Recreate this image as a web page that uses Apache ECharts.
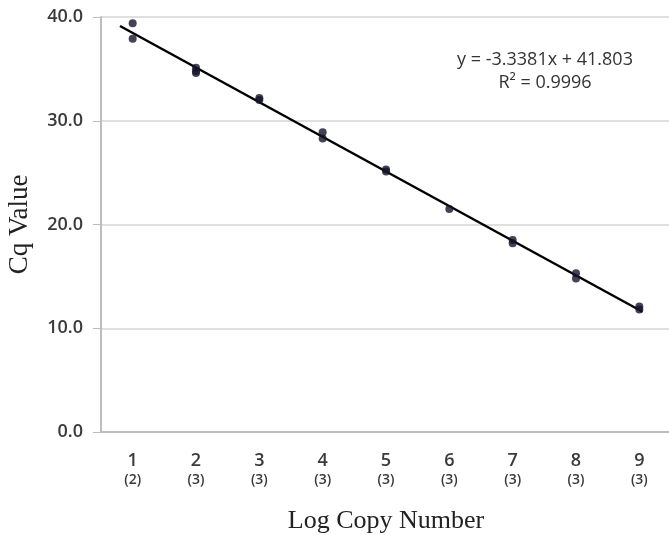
<!DOCTYPE html>
<html lang="en">
<head>
    <meta charset="UTF-8">
    <title>Cq vs Log Copy Number</title>
    <script src="https://cdn.jsdelivr.net/npm/echarts@6.0.0/dist/echarts.min.js"></script>
    <style>
        html, body { margin: 0; padding: 0; background: #fff; }
        #chart { width: 669px; height: 535px; }
    </style>
</head>
<body>
    <div id="chart"></div>
    <script>
        // tick labels along the x axis: log copy number and (replicates)
        const logCopies = ['1', '2', '3', '4', '5', '6', '7', '8', '9'];
        const replicates = ['2', '3', '3', '3', '3', '3', '3', '3', '3'];

        // measured points (x = log copy number, y = Cq)
        const pointX = [1, 1, 2, 2, 2, 3, 3, 4, 4, 5, 5, 6, 7, 7, 8, 8, 9, 9];
        const pointY = [39.4, 37.9, 35.1, 34.8, 34.6, 32.2, 32.0, 28.9, 28.3,
                        25.3, 25.1, 21.5, 18.5, 18.2, 15.3, 14.8, 12.1, 11.8];

        // trend line end points
        const lineX = [0.8, 9.05];
        const lineY = [39.13, 11.59];

        const yTicks = [0, 10, 20, 30, 40];

        const chart = echarts.init(document.getElementById('chart'));

        const labelFont = '"Open Sans", sans-serif';
        const serifFont = '"Liberation Serif", "Times New Roman", serif';

        const option = {
            animation: false,
            backgroundColor: '#fff',
            grid: { left: 101, right: -2, top: 17, bottom: 103, outerBoundsMode: 'none', containLabel: false },
            xAxis: [{
                type: 'category',
                data: logCopies,
                boundaryGap: true,
                name: 'Log Copy Number',
                nameLocation: 'middle',
                nameGap: 76,
                nameTextStyle: { fontFamily: serifFont, fontSize: 26, color: '#222' },
                axisLine: { lineStyle: { color: '#bdbdbd', width: 2 } },
                axisTick: { alignWithLabel: true, length: 6, lineStyle: { color: '#bdbdbd' } },
                axisLabel: {
                    margin: 18,
                    interval: 0,
                    formatter: (v, i) => '{a|' + v + '}\n{b|(' + replicates[i] + ')}',
                    rich: {
                        a: { fontFamily: labelFont, fontSize: 18, fontWeight: 600, color: '#3a3a3a', lineHeight: 21 },
                        b: { fontFamily: labelFont, fontSize: 14, fontWeight: 600, color: '#3a3a3a', lineHeight: 18 }
                    }
                },
                splitLine: { show: false }
            }, {
                type: 'value',
                min: 0.5,
                max: 9.5,
                show: false
            }],
            yAxis: {
                type: 'value',
                min: yTicks[0],
                max: yTicks[yTicks.length - 1],
                interval: 10,
                name: 'Cq Value',
                nameLocation: 'middle',
                nameGap: 68,
                nameTextStyle: { fontFamily: serifFont, fontSize: 27, color: '#222' },
                axisLine: { show: true, lineStyle: { color: '#bdbdbd', width: 2 } },
                axisTick: { show: true, length: 8, lineStyle: { color: '#bdbdbd' } },
                axisLabel: {
                    margin: 18,
                    fontFamily: labelFont,
                    fontSize: 18,
                    fontWeight: 600,
                    color: '#3a3a3a',
                    formatter: v => v.toFixed(1)
                },
                splitLine: { lineStyle: { color: '#d4d4d4', width: 1.5 } }
            },
            series: [{
                type: 'line',
                xAxisIndex: 1,
                data: lineX.map((x, i) => [x, lineY[i]]),
                showSymbol: false,
                lineStyle: { color: '#000', width: 2.5 },
                z: 2
            }, {
                type: 'scatter',
                xAxisIndex: 1,
                data: pointX.map((x, i) => [x, pointY[i]]),
                symbolSize: 8,
                itemStyle: { color: '#14142a' },
                z: 3
            }],
            graphic: [{
                type: 'text',
                x: 545,
                y: 48,
                style: {
                    text: 'y = -3.3381x + 41.803\nR² = 0.9996',
                    textAlign: 'center',
                    textVerticalAlign: 'top',
                    fontFamily: labelFont,
                    fontSize: 18,
                    lineHeight: 23,
                    fill: '#333'
                }
            }]
        };
        chart.setOption(option);
    </script>
</body>
</html>
